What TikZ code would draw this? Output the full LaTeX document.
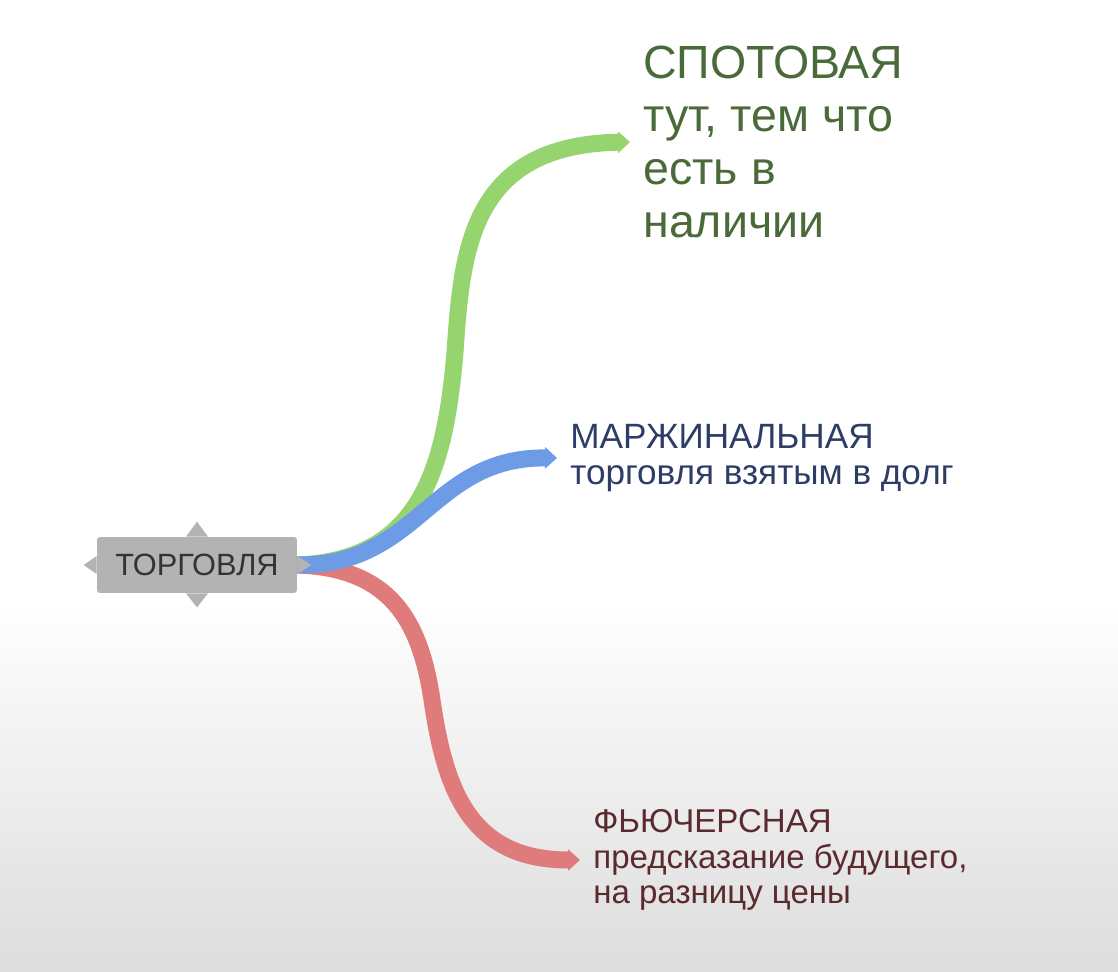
\documentclass[tikz,border=0pt]{standalone}
\usepackage{fontspec}
\setmainfont{Liberation Sans}
\usepackage{xcolor}
\usetikzlibrary{arrows.meta, backgrounds}

\definecolor{spotgreen}{HTML}{95D46E}
\definecolor{margblue}{HTML}{6E9BE5}
\definecolor{futred}{HTML}{E07B7B}
\definecolor{boxgray}{HTML}{B3B3B3}
\definecolor{spottext}{HTML}{4A6A3A}
\definecolor{margtext}{HTML}{2E3D66}
\definecolor{futtext}{HTML}{5A2A2E}

\begin{document}
\begin{tikzpicture}[x=0.02cm, y=-0.02cm,
  branch/.style={line width=0.34cm, -{Triangle[length=0.24cm,width=0.42cm]}},
  leaf/.style={anchor=west, align=left, inner xsep=0.26cm, inner ysep=0pt}]
\useasboundingbox (0,0) rectangle (1118,972);

\node (trade) [fill=boxgray, rounded corners=0.06cm, minimum width=4cm, minimum height=1.12cm,
  text=black!80, font=\fontsize{17.5}{20}\selectfont] at (197,565) {ТОРГОВЛЯ};
% spikes round the box
\fill[boxgray] (trade.north) ++(-11,0) -- ++(11,-15) -- ++(11,15) -- cycle;
\fill[boxgray] (trade.south) ++(-11,0) -- ++(11,14) -- ++(11,-14) -- cycle;
\fill[boxgray] (trade.west) ++(0,-9) -- ++(-13,9) -- ++(13,9) -- cycle;
\fill[boxgray] (trade.east) ++(0,-9) -- ++(14,9) -- ++(-14,9) -- cycle;

\node (spot) [leaf, text=spottext, font=\fontsize{26.5}{30}\selectfont] at (630,142)
  {СПОТОВАЯ\\тут, тем что\\есть в\\наличии};
\node (marg) [leaf, text=margtext, font=\fontsize{20}{20.5}\selectfont] at (557,458)
  {МАРЖИНАЛЬНАЯ\\торговля взятым в долг};
\node (fut) [leaf, text=futtext, font=\fontsize{18.8}{20.3}\selectfont] at (580,860)
  {ФЬЮЧЕРСНАЯ\\предсказание будущего,\\на разницу цены};

\begin{pgfonlayer}{background}
\fill[white] (0,0) rectangle (1118,972);
\shade[top color=white, bottom color=gray!27] (0,600) rectangle (1118,972);
% branches
\draw[branch, spotgreen] (trade.east) .. controls (420,560) and (445,470) .. (455,352)
  .. controls (462,250) and (470,145) .. (spot.west);
\draw[branch, futred] (trade.east) .. controls (390,568) and (420,620) .. (432,700)
  .. controls (445,790) and (470,860) .. (fut.west);
\draw[branch, margblue] (trade.east) .. controls (420,566) and (430,457) .. (marg.west);
\end{pgfonlayer}
\end{tikzpicture}
\end{document}
